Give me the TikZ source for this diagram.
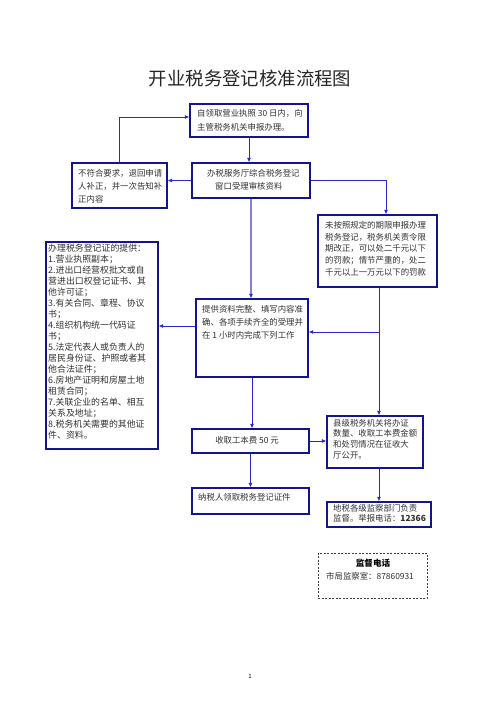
\documentclass[tikz,border=0pt]{standalone}
\usepackage{fontspec}
\setmainfont{Noto Sans CJK SC}
\usetikzlibrary{arrows.meta}
\definecolor{navy}{RGB}{20,20,140}
\definecolor{lnblue}{RGB}{40,40,205}
\definecolor{lav}{RGB}{135,125,215}
\definecolor{txtgray}{RGB}{50,50,50}
\begin{document}
\begin{tikzpicture}[x=1pt,y=-1pt,
 box/.style={draw=navy,line width=1.1pt,inner sep=0pt,fill=white},
 dbox/.style={draw=black!75,line width=0.7pt,dash pattern=on 2pt off 1.5pt,inner sep=0pt},
 txt/.style={inner sep=0pt,align=left,anchor=north west,text=txtgray,font=\fontsize{8.4}{13}\selectfont},
 arr/.style={draw=lnblue,line width=1pt,-{Latex[length=4.5pt,width=4pt]}},
 lavarr/.style={draw=lav,line width=1.3pt,-{Latex[length=4.5pt,width=4pt,color=lnblue]}},
]
\fill[white] (0,0) rectangle (496,702);
\useasboundingbox (0,0) rectangle (496,702);

% title
\node[inner sep=0pt,font=\fontsize{18.4}{20}\selectfont,text=black!85] (title) at (250,79) {开业税务登记核准流程图};

% boxes
\node[box,minimum width=118pt,minimum height=33pt] (A) at (249,120.5) {};
\node[box,minimum width=118pt,minimum height=35pt] (B) at (251,180.5) {};
\node[box,minimum width=95pt,minimum height=45pt] (C) at (119.5,185.5) {};
\node[box,minimum width=119pt,minimum height=72pt] (D) at (377.5,251) {};
\node[box,minimum width=112pt,minimum height=78pt] (E) at (252,338) {};
\node[box,minimum width=112pt,minimum height=207pt] (F) at (102,345.5) {};
\node[box,minimum width=96pt,minimum height=52pt] (G) at (375,442) {};
\node[box,minimum width=117pt,minimum height=24pt] (H) at (250.5,441) {};
\node[box,minimum width=117pt,minimum height=26pt] (I) at (250.5,501) {};
\node[box,minimum width=104pt,minimum height=25pt] (J) at (379,514.5) {};
\node[dbox,minimum width=109pt,minimum height=45pt] (K) at (372.5,575.5) {};

% texts
\node[txt,font=\fontsize{8.4}{14.4}\selectfont] (At) at (197,109) {自领取营业执照 30 日内，向\\主管税务机关申报办理。};
\node[txt] (Bt) at (207,169) {办税服务厅综合税务登记\\\hspace*{8pt}窗口受理审核资料};
\node[txt] (Ct) at (78,169) {不符合要求，退回申请\\人补正，并一次告知补\\正内容};
\node[txt,font=\fontsize{8.4}{11.7}\selectfont] (Dt) at (325,221) {未按照规定的期限申报办理\\税务登记，税务机关责令限\\期改正，可以处二千元以下\\的罚款；情节严重的，处二\\千元以上一万元以下的罚款};
\node[txt] (Et) at (202,305) {提供资料完整、填写内容准\\确、各项手续齐全的受理并\\在 1 小时内完成下列工作};
\node[txt,font=\fontsize{8.9}{11}\selectfont] (Ft) at (48,244) {办理税务登记证的提供：\\1.营业执照副本；\\2.进出口经营权批文或自\\营进出口权登记证书、其\\他许可证；\\3.有关合同、章程、协议\\书；\\4.组织机构统一代码证\\书；\\5.法定代表人或负责人的\\居民身份证、护照或者其\\他合法证件；\\6.房地产证明和房屋土地\\租赁合同；\\7.关联企业的名单、相互\\关系及地址；\\8.税务机关需要的其他证\\件、资料。};
\node[txt,font=\fontsize{8.4}{10.7}\selectfont] (Gt) at (333,419) {县级税务机关将办证\\数量、收取工本费金额\\和处罚情况在征收大\\厅公开。};
\node[txt,anchor=center] (Ht) at (247,440) {收取工本费 50 元};
\node[txt] (It) at (198,493) {纳税人领取税务登记证件};
\node[txt,font=\fontsize{8.4}{10.5}\selectfont] (Jt) at (333,504) {地税各级监察部门负责\\监督。举报电话：\textbf{12366}};
\node[txt,anchor=center,font=\fontsize{8.6}{10}\selectfont\bfseries,text=black] (Kh) at (373,563) {监督电话};
\node[txt,anchor=west] (Kt) at (326,576) {市局监察室：87860931};

\node[inner sep=0pt,font=\fontsize{6}{7}\selectfont] (pg) at (250,676) {1};

% connectors
\draw[arr] (C.north) |- ([yshift=3.5pt]A.west);
\draw[arr] (A.south) -- (A.south |- B.north);
\draw[arr] (B.west) -- (B.west -| C.east);
\draw[arr] (B.east) -| ([xshift=8.5pt]D.north);
\draw[lavarr] (B.south) -- (B.south |- E.north);
\draw[arr] ([yshift=12pt]E.west) -- ([yshift=12pt]E.west -| F.east);
\coordinate (Dout) at ([xshift=1.5pt]D.south);
\coordinate (Ein) at ([yshift=6pt]E.east);
\draw[arr] (Dout) -- (Dout |- G.north);
\draw[arr] (Dout |- Ein) -- (Ein);
\draw[arr] (E.south) -- (E.south |- H.north);
\draw[arr] (H.east) -- (H.east -| G.west);
\draw[arr] (H.south) -- (H.south |- I.north);
\draw[arr] (J.north |- G.south) -- (J.north);
\end{tikzpicture}
\end{document}
